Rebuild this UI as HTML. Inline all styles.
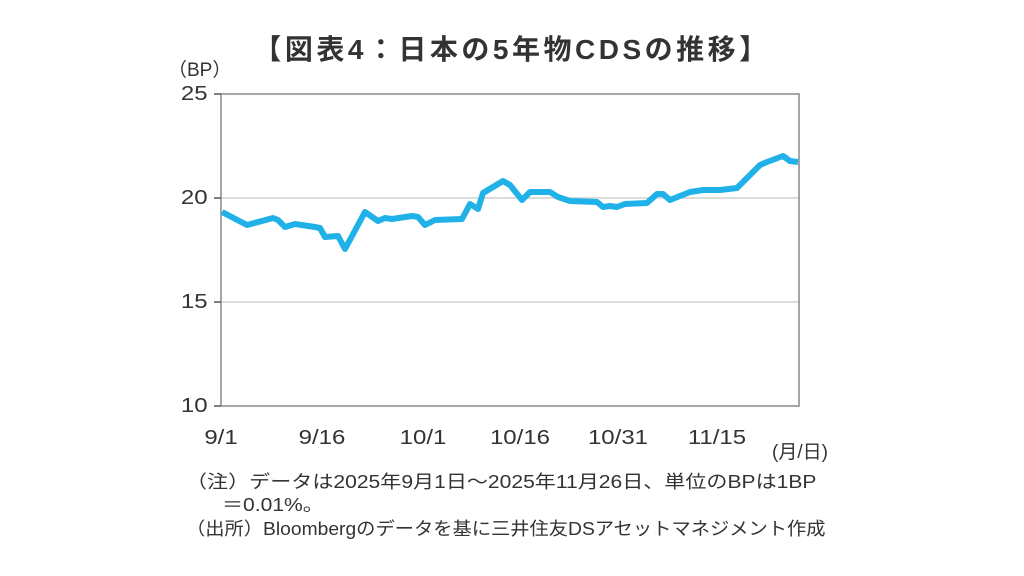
<!DOCTYPE html>
<html><head><meta charset="utf-8"><style>
body{margin:0;width:1024px;height:576px;background:#fff;overflow:hidden;font-family:"Liberation Sans","Noto Sans CJK JP",sans-serif;color:#333;}
.t{position:absolute;white-space:nowrap;}
.n{transform-origin:0 0;transform:scaleX(1.17);font-size:18px;}
.k{font-size:20px;transform:scaleX(1.2);}
</style></head><body>
<svg width="1024" height="576" style="position:absolute;left:0;top:0">
<g stroke="#d0d0d0" stroke-width="1.5">
<line x1="221" y1="198" x2="799" y2="198"/><line x1="221" y1="302" x2="799" y2="302"/>
</g>
<rect x="221" y="94" width="578" height="312" fill="none" stroke="#888" stroke-width="1.5"/>
<g stroke="#555" stroke-width="1.5">
<line x1="214" y1="94" x2="221" y2="94"/><line x1="214" y1="198" x2="221" y2="198"/><line x1="214" y1="302" x2="221" y2="302"/><line x1="214" y1="406" x2="221" y2="406"/>
</g>
<polyline fill="none" stroke="#1fb1e8" stroke-width="6" stroke-linejoin="round" points="222,212 247,225 273,218 278,220 285,227 295,224 315,227 320,228 325,237 338,236 345,249 365,212 378,221 385,218 392,219 412,216 418,217 425,225 435,220 462,219 470,204 478,209 483,193 503,181 510,185 522,200 530,192 550,192 558,197 570,201 597,202 603,207 610,206 617,207 625,204 647,203 657,194 663,194 670,200 690,192 703,190 720,190 737,188 748,177 760,165 767,162 783,156 790,161 798,162"/>
</svg>
<div class="t" style="left:0;width:1024px;text-align:center;top:28px;font-size:28px;font-weight:bold;color:#333;letter-spacing:3.5px">【図表4：日本の5年物CDSの推移】</div>
<div class="t" style="left:168px;top:55px;font-size:19px">（BP）</div>
<div class="t k" style="left:168px;top:83px;width:36px;text-align:right">25</div>
<div class="t k" style="left:168px;top:187px;width:36px;text-align:right">20</div>
<div class="t k" style="left:168px;top:291px;width:36px;text-align:right">15</div>
<div class="t k" style="left:168px;top:395px;width:36px;text-align:right">10</div>
<div class="t k" style="left:201px;top:427px;width:40px;text-align:center">9/1</div>
<div class="t k" style="left:292px;top:427px;width:60px;text-align:center">9/16</div>
<div class="t k" style="left:393px;top:427px;width:60px;text-align:center">10/1</div>
<div class="t k" style="left:490px;top:427px;width:60px;text-align:center">10/16</div>
<div class="t k" style="left:588px;top:427px;width:60px;text-align:center">10/31</div>
<div class="t k" style="left:687px;top:427px;width:60px;text-align:center">11/15</div>
<div class="t" style="left:772px;top:437px;font-size:19px">(月/日)</div>
<div class="t n" style="left:186px;top:468px">（注）データは2025年9月1日～2025年11月26日、単位のBPは1BP</div>
<div class="t n" style="left:222px;top:491px">＝0.01%。</div>
<div class="t n" style="left:186px;top:515px;transform:scaleX(1.07)">（出所）Bloombergのデータを基に三井住友DSアセットマネジメント作成</div>
</body></html>
